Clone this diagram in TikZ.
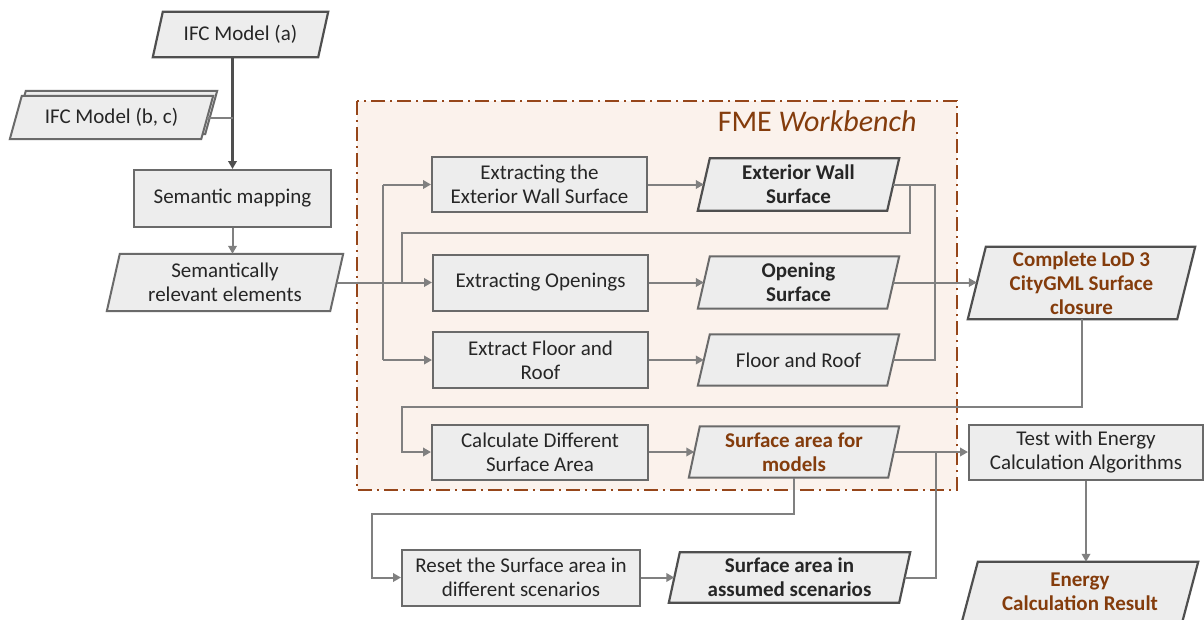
\documentclass[tikz,border=0pt]{standalone}
\usepackage{fontspec}
\setmainfont{Carlito}
\usetikzlibrary{arrows.meta}
\pgfdeclarelayer{bg}
\pgfdeclarelayer{mid}
\pgfsetlayers{bg,mid,main}

\definecolor{boxfill}{HTML}{EDEDED}
\definecolor{edge}{HTML}{6A6A6A}
\definecolor{darkedge}{HTML}{4F4F4F}
\definecolor{wire}{HTML}{808080}
\definecolor{txt}{HTML}{262626}
\definecolor{brn}{HTML}{843C0C}
\definecolor{fmefill}{HTML}{FBF2EC}
\definecolor{fmeedge}{HTML}{96461A}

\tikzset{
  every node/.style={font=\fontsize{21}{24}\selectfont, text=txt},
  procbox/.style={draw=edge, line width=2pt, fill=boxfill, inner sep=0pt, align=center},
  databox/.style={inner sep=0pt, align=center},
  strong/.style={font=\fontsize{21}{24}\selectfont\bfseries},
  brownbold/.style={strong, text=brn},
  para/.style={draw=edge, line width=2pt, fill=boxfill, line join=miter},
  darkpara/.style={para, draw=darkedge, line width=2.2pt},
  conn/.style={draw=wire, line width=2pt},
  arr/.style={conn, -{Triangle[length=8pt,width=8.5pt]}},
  fme/.style={draw=fmeedge, fill=fmefill, line width=2pt,
    dash pattern=on 14pt off 5pt on 2pt off 5pt},
}

% parallelogram outline behind a node: #1 style, #2 node, #3 half slant
\newcommand\slanted[3]{%
  \begin{pgfonlayer}{mid}
    \path[#1] ([xshift=#3pt]#2.north west) -- ([xshift=#3pt]#2.north east)
      -- ([xshift=-#3pt]#2.south east) -- ([xshift=-#3pt]#2.south west) -- cycle;
  \end{pgfonlayer}}

\begin{document}
\begin{tikzpicture}[x=1pt,y=-1pt]
\useasboundingbox (0,0) rectangle (1204,619);

% FME Workbench frame
\begin{pgfonlayer}{bg}
  \path[fme] (357,101) rectangle (957,490);
\end{pgfonlayer}
\node[anchor=east, text=brn, font=\fontsize{30}{34}\selectfont] (fmetitle)
  at (920,121) {FME \textit{Workbench}};

% input models
\node[databox, minimum width=165pt, minimum height=45pt] (ifca) at (240.5,34.5) {IFC Model (a)};
\node[databox, minimum width=191pt, minimum height=43pt] (ifcbk) at (115.5,112.5) {};
\node[databox, minimum width=191pt, minimum height=43pt] (ifcbc) at (111.5,117.5) {IFC Model (b, c)};
\slanted{darkpara}{ifca}{5}
\slanted{para}{ifcbk}{6}
\slanted{para}{ifcbc}{6}

\node[procbox, minimum width=197pt, minimum height=57pt] (sem) at (232.5,198.5) {Semantic mapping};
\node[databox, minimum width=223pt, minimum height=57pt] (semrel) at (225,282.5) {Semantically\\relevant elements};
\slanted{para}{semrel}{6.5}

% extraction steps
\node[procbox, minimum width=215pt, minimum height=55pt] (ext1) at (539.5,184.5) {Extracting the\\Exterior Wall Surface};
\node[procbox, minimum width=215pt, minimum height=56pt] (ext2) at (540.5,282.5) {Extracting Openings};
\node[procbox, minimum width=215pt, minimum height=56pt] (ext3) at (540.5,360) {Extract Floor and\\Roof};

\node[databox, strong, minimum width=189pt, minimum height=52pt] (ews) at (798.5,184.5) {Exterior Wall\\Surface};
\node[databox, strong, minimum width=189pt, minimum height=52pt] (ops) at (798.5,282.5) {Opening\\Surface};
\node[databox, minimum width=189pt, minimum height=51pt] (fr) at (798.5,360) {Floor and Roof};
\slanted{darkpara}{ews}{6}
\slanted{para}{ops}{6}
\slanted{para}{fr}{6}

\node[databox, brownbold, minimum width=209pt, minimum height=72pt] (lod) at (1081.5,283) {Complete LoD 3\\CityGML Surface\\closure};
\slanted{darkpara}{lod}{9}

% surface area steps
\node[procbox, minimum width=216pt, minimum height=55pt] (calc) at (540,452) {Calculate Different\\Surface Area};
\node[databox, brownbold, minimum width=199pt, minimum height=51pt] (sam) at (794,452) {Surface area for\\models};
\slanted{para}{sam}{5.5}

\node[procbox, minimum width=238pt, minimum height=56pt] (reset) at (521,577.5) {Reset the Surface area in\\different scenarios};
\node[databox, strong, minimum width=230pt, minimum height=50pt] (saa) at (789.5,577.5) {Surface area in\\assumed scenarios};
\slanted{darkpara}{saa}{5.5}

\node[procbox, minimum width=234pt, minimum height=55pt] (test) at (1086,452) {Test with Energy\\Calculation Algorithms};
\node[databox, brownbold, minimum width=220pt, minimum height=60pt] (ecr) at (1080,592) {Energy\\Calculation Result};
\slanted{darkpara}{ecr}{8}

% junction points
\coordinate (br) at (383,282.5);
\coordinate (fbx) at (910,233);
\coordinate (fbl) at (402,233);
\coordinate (jx) at (935,282.5);
\coordinate (lodturn) at (402,407);
\coordinate (samturn) at (372,514);
\coordinate (jy) at (936,452);

% input chain
\draw[arr, draw=darkedge, line width=2.3pt] (sem.north |- ifca.south) -- (sem.north);
\draw[conn] (ifcbc.east) -- (ifcbc.east -| sem.north);
\draw[arr] (sem.south) -- (sem.south |- semrel.north);
\draw[arr] (semrel.east) -- (ext2.west);

% branching into the extraction steps
\draw[conn] (br |- ext1.west) -- (br |- ext3.west);
\draw[arr] (br |- ext1.west) -- (ext1.west);
\draw[arr] (br |- ext3.west) -- (ext3.west);

\draw[arr] (ext1.east) -- (ews.west);
\draw[arr] (ext2.east) -- (ops.west);
\draw[arr] (ext3.east) -- (fr.west);

% collecting the surfaces
\draw[conn] (ews.east) -- (ews.east -| jx) -- (fr.east -| jx) -- (fr.east);
\draw[conn] (ews.east -| fbx) -- (fbx) -- (fbl) -- (fbl |- br);
\draw[arr] (ops.east) -- (ops.east -| lod.west);

% closure to area calculation
\draw[arr] (lod.south) |- (lodturn) |- (calc.west);
\draw[arr] (calc.east) -- (sam.west);
\draw[arr] (sam.east) -- (test.west);
\draw[arr] (sam.south) |- (samturn) |- (reset.west);
\draw[arr] (reset.east) -- (saa.west);
\draw[conn] (saa.east) -| (jy);
\draw[arr] (test.south) -- (test.south |- ecr.north);
\end{tikzpicture}
\end{document}
